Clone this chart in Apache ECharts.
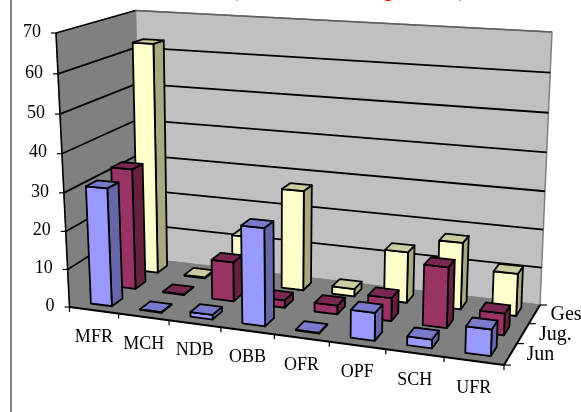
<!DOCTYPE html>
<html>
<head>
<meta charset="utf-8">
<style>html,body{margin:0;padding:0;background:#fff}#main{width:581px;height:412px}</style>
<script src="https://cdn.jsdelivr.net/npm/echarts@6/dist/echarts.min.js"></script>
</head>
<body>
<div id="main"></div>
<script>
var categories = ['MFR', 'MCH', 'NDB', 'OBB', 'OFR', 'OPF', 'SCH', 'UFR'];
var rows = ['Jun', 'Jug.', 'Ges'];
var jun = [31, 0.2, 1.2, 25, 0.2, 7, 2.2, 6.5];
var jug = [32.5, 0.2, 10.5, 2, 2.3, 6, 15.5, 5.5];
var ges = [63, 0.3, 13, 27, 2, 13.5, 17.5, 11];
var valueTicks = [0, 10, 20, 30, 40, 50, 60, 70];

var FONT = '"Liberation Serif", serif';

// homography from the unit square to a quad (fl, fr, br, bl)
function makeQuad(q) {
  var dx1 = q[1][0] - q[2][0], dx2 = q[3][0] - q[2][0], sx = q[0][0] - q[1][0] + q[2][0] - q[3][0];
  var dy1 = q[1][1] - q[2][1], dy2 = q[3][1] - q[2][1], sy = q[0][1] - q[1][1] + q[2][1] - q[3][1];
  var d = dx1 * dy2 - dx2 * dy1;
  var g = (sx * dy2 - dx2 * sy) / d;
  var h = (dx1 * sy - sx * dy1) / d;
  var a = q[1][0] - q[0][0] + g * q[1][0], b = q[3][0] - q[0][0] + h * q[3][0], c = q[0][0];
  var e = q[1][1] - q[0][1] + g * q[1][1], f = q[3][1] - q[0][1] + h * q[3][1], k = q[0][1];
  return function(u, w) {
    var n = g * u + h * w + 1;
    return [(a * u + b * w + c) / n, (e * u + f * w + k) / n];
  };
}

// the box of the 3D plot: floor and the plane at the axis maximum
var floorQuad = makeQuad([[69.5, 307], [504, 365], [540, 305], [140, 258]]);
var topQuad = makeQuad([[56, 33], [515, 60], [552, 32], [135.5, 10.5]]);

// u along categories, w along rows, t along values (all 0..1)
function project(u, w, t) {
  var a = floorQuad(u, w), b = topQuad(u, w);
  var s = t / (t + (1 - t) * 1.05);
  return [a[0] + (b[0] - a[0]) * s, a[1] + (b[1] - a[1]) * s];
}

function poly(points, fill, stroke, width) {
  return {
    type: 'polygon',
    shape: { points: points },
    style: { fill: fill, stroke: stroke === undefined ? '#000' : stroke, lineWidth: width === undefined ? 1.8 : width, lineJoin: 'round' }
  };
}
function seg(a, b, color, width) {
  return { type: 'line', shape: { x1: a[0], y1: a[1], x2: b[0], y2: b[1] }, style: { stroke: color, lineWidth: width } };
}
function label(p, text, align, size) {
  return { type: 'text', style: { x: p[0], y: p[1], text: text, fill: '#000', font: (size || 18) + 'px ' + FONT, textAlign: align, textVerticalAlign: 'middle' } };
}

// normalised position on the hidden axes
function toUnit(api, params, cat, value) {
  var cs = params.coordSys, c = api.coord([cat, value]);
  return [(c[0] - cs.x) / cs.width, (cs.y + cs.height - c[1]) / cs.height];
}

function renderBox(params, api) {
  var els = [];
  var ticks = valueTicks.map(function(v) { return toUnit(api, params, 0, v)[1]; });
  els.push(poly([project(0, 1, 0), project(1, 1, 0), project(1, 1, 1), project(0, 1, 1)], '#C0C0C0', '#808080', 1.5));
  els.push(poly([project(0, 0, 0), project(0, 1, 0), project(0, 1, 1), project(0, 0, 1)], '#808080', '#808080', 1));
  els.push(poly([project(0, 0, 0), project(1, 0, 0), project(1, 1, 0), project(0, 1, 0)], '#808080', '#808080', 1));
  ticks.forEach(function(t, idx) {
    if (idx > 0 && idx < ticks.length - 1) {
      els.push(seg(project(0, 0, t), project(0, 1, t), '#000', 1.8));
      els.push(seg(project(0, 1, t), project(1, 1, t), '#000', 1.8));
    }
  });
  els.push(seg(project(0, 0, 1), project(0, 1, 1), '#000', 1.4));
  els.push(seg(project(0, 1, 1), project(1, 1, 1), '#606060', 1.4));
  els.push(seg(project(0, 0, 0), project(0, 0, 1), '#000', 1.6));
  els.push(seg(project(0, 0, 0), project(1, 0, 0), '#000', 2));
  els.push(seg(project(1, 0, 0), project(1, 1, 0), '#000', 2));
  return { type: 'group', children: els };
}

function renderAxes(params, api) {
  var els = [];
  var n = categories.length, m = rows.length;
  valueTicks.forEach(function(v) {
    var t = toUnit(api, params, 0, v)[1];
    var p = project(0, 0, t);
    els.push(seg(p, [p[0] - 5, p[1]], '#000', 1.2));
    els.push(label([p[0] - 15, p[1] - 1], String(v), 'right'));
  });
  for (var i = 0; i <= n; i++) {
    var p = project(i / n, 0, 0);
    els.push(seg(p, [p[0], p[1] + 5], '#000', 1.2));
    if (i < n) {
      var c = project((i + 0.5) / n, 0, 0);
      els.push(label([c[0], c[1] + 27], categories[i], 'center'));
    }
  }
  for (var j = 0; j <= m; j++) {
    var q = project(1, j / m, 0);
    els.push(seg(q, [q[0] + 7, q[1]], '#000', 1.2));
    if (j < m) {
      var d = project(1, (j + 0.5) / m, 0);
      els.push(label([d[0] + 16, d[1] + 1], rows[j], 'left', 20));
    }
  }
  return { type: 'group', children: els };
}

function barRenderer(rowIndex, front, side, top) {
  return function(params, api) {
    var cs = params.coordSys;
    var cat = api.value(0), val = api.value(1);
    var cu = toUnit(api, params, cat, val);
    var half = 0.215 * api.size([1, 0])[0] / cs.width;
    var u0 = cu[0] - half, u1 = cu[0] + half;
    var w0 = (rowIndex + 0.3) / rows.length, w1 = (rowIndex + 0.74) / rows.length;
    var t = cu[1];
    return {
      type: 'group',
      children: [
        poly([project(u1, w0, 0), project(u1, w1, 0), project(u1, w1, t), project(u1, w0, t)], side),
        poly([project(u0, w0, 0), project(u1, w0, 0), project(u1, w0, t), project(u0, w0, t)], front),
        poly([project(u0, w0, t), project(u1, w0, t), project(u1, w1, t), project(u0, w1, t)], top)
      ]
    };
  };
}

function barSeries(values, rowIndex, front, side, top) {
  return {
    type: 'custom',
    name: rows[rowIndex],
    renderItem: barRenderer(rowIndex, front, side, top),
    data: values.map(function(v, i) { return [i, v]; }),
    encode: { x: 0, y: 1 },
    clip: false,
    silent: true
  };
}

var chart = echarts.init(document.getElementById('main'), null, { renderer: 'canvas' });
chart.setOption({
  animation: false,
  backgroundColor: '#fff',
  title: {
    text: '(Anteil an Beschäftigten in %)',
    left: 227, top: -22,
    textStyle: { color: '#f00', fontFamily: FONT, fontWeight: 'bold', fontSize: 18 }
  },
  graphic: [{ type: 'line', shape: { x1: 11, y1: 0, x2: 11, y2: 412 }, style: { stroke: '#666', lineWidth: 1.6 } }],
  grid: { left: 0, right: 0, top: 0, bottom: 0 },
  xAxis: { type: 'category', data: categories, show: false },
  yAxis: { type: 'value', min: 0, max: 70, interval: 10, show: false },
  series: [
    { type: 'custom', renderItem: renderBox, data: [[0, 0]], encode: { x: 0, y: 1 }, clip: false, silent: true },
    { type: 'custom', renderItem: renderAxes, data: [[0, 0]], encode: { x: 0, y: 1 }, clip: false, silent: true },
    barSeries(ges, 2, '#FFFFCC', '#A9A97F', '#CCCCA3'),
    barSeries(jug, 1, '#993366', '#66213F', '#7A2851'),
    barSeries(jun, 0, '#9999FF', '#6666A9', '#7A7ACC')
  ]
});
</script>
</body>
</html>
